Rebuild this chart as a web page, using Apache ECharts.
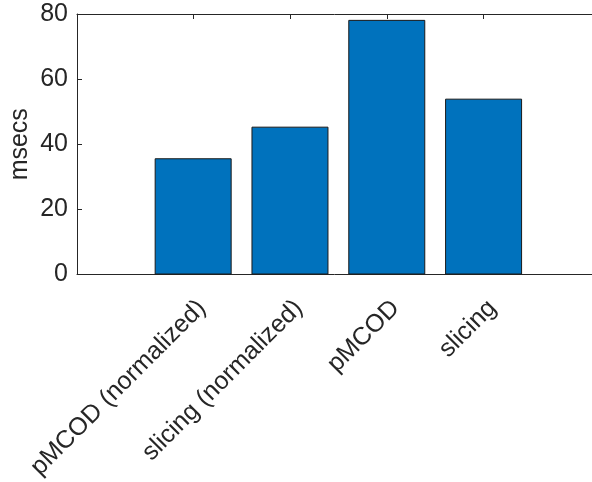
<!DOCTYPE html>
<html>
<head>
<meta charset="utf-8">
<script src="https://cdn.jsdelivr.net/npm/echarts@6/dist/echarts.min.js"></script>
<style>html,body{margin:0;padding:0;background:#fff;}#c{width:592px;height:482px;}</style>
</head>
<body>
<div id="c"></div>
<script>
var categories = ['pMCOD (normalized)', 'slicing (normalized)', 'pMCOD', 'slicing'];
var positions = [1, 2, 3, 4];
var values = [35.7, 45.4, 78.2, 54.0];
var yTicks = [0, 20, 40, 60, 80];

var chart = echarts.init(document.getElementById('c'));
var font = 'Liberation Sans, Arial, Helvetica, sans-serif';
var axisColor = '#262626';
chart.setOption({
  animation: false,
  grid: { left: 77, top: 14, right: 0, bottom: 207.5, containLabel: false, outerBoundsMode: 'none' },
  xAxis: [{
    type: 'value', min: -0.2, max: 5.12, position: 'bottom',
    splitLine: { show: false },
    axisLine: { show: true, onZero: false, lineStyle: { color: axisColor, width: 1 } },
    axisTick: { show: true, inside: true, length: 5, customValues: positions, lineStyle: { color: axisColor } },
    axisLabel: {
      show: true, customValues: positions, rotate: 45, margin: 21, verticalAlign: 'top',
      color: axisColor, fontSize: 25, fontFamily: font,
      formatter: function (v) { return categories[positions.indexOf(Math.round(v))] || ''; }
    }
  }, {
    type: 'value', min: -0.2, max: 5.12, position: 'top',
    splitLine: { show: false },
    axisLine: { show: true, onZero: false, lineStyle: { color: axisColor, width: 1 } },
    axisTick: { show: true, inside: true, length: 5, customValues: positions, lineStyle: { color: axisColor } },
    axisLabel: { show: false }
  }],
  yAxis: {
    type: 'value', min: yTicks[0], max: yTicks[yTicks.length - 1], interval: 20,
    name: 'msecs', nameLocation: 'middle', nameGap: 44, nameRotate: 90, nameMoveOverlap: false,
    nameTextStyle: { color: axisColor, fontSize: 25, fontFamily: font },
    splitLine: { show: false },
    axisLine: { show: true, onZero: false, lineStyle: { color: axisColor, width: 1 } },
    axisTick: { show: true, inside: true, length: 5, customValues: yTicks, lineStyle: { color: axisColor } },
    axisLabel: { color: axisColor, fontSize: 25, fontFamily: font, margin: 9 }
  },
  series: [{
    type: 'bar', xAxisIndex: 0,
    data: positions.map(function (p, i) { return [p, values[i]]; }),
    barWidth: 77,
    itemStyle: { color: '#0072BD', borderColor: '#1a1a1a', borderWidth: 1 },
    z: 1
  }]
});
</script>
</body>
</html>
